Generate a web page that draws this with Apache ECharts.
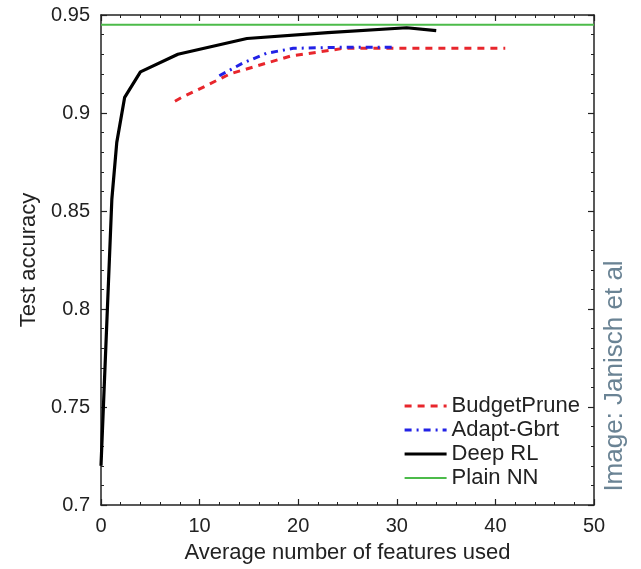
<!DOCTYPE html>
<html>
<head>
<meta charset="utf-8">
<script src="https://cdn.jsdelivr.net/npm/echarts@6/dist/echarts.min.js"></script>
<style>
html,body{margin:0;padding:0;background:#fff;}
#chart{width:641px;height:569px;}
</style>
</head>
<body>
<div id="chart"></div>
<script>
// ---- data ----
const seriesNames = ['BudgetPrune', 'Adapt-Gbrt', 'Deep RL', 'Plain NN'];

const budgetPruneX = [7.5, 8.2, 10.7, 13.1, 15.8, 19.2, 24.6, 30, 35, 41];
const budgetPruneY = [0.906, 0.908, 0.914, 0.920, 0.924, 0.929, 0.933, 0.933, 0.933, 0.933];

const adaptGbrtX = [12, 14.4, 16.8, 19.5, 24, 29.6];
const adaptGbrtY = [0.919, 0.9255, 0.9305, 0.933, 0.9335, 0.9335];

const deepRLX = [0, 1.1, 1.6, 2.4, 4, 7.8, 14.8, 23, 31, 34];
const deepRLY = [0.72, 0.856, 0.885, 0.908, 0.921, 0.930, 0.938, 0.941, 0.9435, 0.942];

const plainNNX = [0, 50];
const plainNNY = [0.945, 0.945];

const xTicks = [0, 10, 20, 30, 40, 50];
const yTicks = [0.7, 0.75, 0.8, 0.85, 0.9, 0.95];

const zip = (xs, ys) => xs.map((x, i) => [x, ys[i]]);

const FONT = 'Liberation Sans, Arial, Helvetica, sans-serif';
const COLORS = ['#e8262c', '#2222e6', '#000000', '#4cbb4a'];
const WIDTHS = [3, 3, 3.2, 2];
const DASHES = [[7, 6], [7, 5, 2, 5], 'solid', 'solid'];

const axisCommon = {
  type: 'value',
  axisLine: { show: true, onZero: false, lineStyle: { color: '#222', width: 1.5 } },
  axisTick: { show: true, inside: true, length: 6, lineStyle: { color: '#222', width: 1.2 } },
  minorTick: { show: true, splitNumber: 5, length: 3, lineStyle: { color: '#222', width: 1 } },
  splitLine: { show: false },
  minorSplitLine: { show: false }
};

const chart = echarts.init(document.getElementById('chart'), null, { renderer: 'canvas' });
chart.setOption({
  animation: false,
  backgroundColor: '#fff',
  grid: { left: 101, top: 15, width: 493, height: 493, containLabel: false },
  xAxis: [
    Object.assign({}, axisCommon, {
      position: 'bottom',
      min: xTicks[0], max: xTicks[xTicks.length - 1], interval: 10,
      name: 'Average number of features used',
      nameLocation: 'middle', nameGap: 37,
      nameTextStyle: { fontFamily: FONT, fontSize: 22, color: '#222' },
      axisLabel: { show: true, margin: 11, fontFamily: FONT, fontSize: 20, color: '#222' }
    }),
    Object.assign({}, axisCommon, {
      position: 'top',
      min: xTicks[0], max: xTicks[xTicks.length - 1], interval: 10,
      axisLabel: { show: false }
    })
  ],
  yAxis: [
    Object.assign({}, axisCommon, {
      position: 'left',
      min: yTicks[0], max: yTicks[yTicks.length - 1], interval: 0.05,
      name: 'Test accuracy',
      nameLocation: 'middle', nameGap: 52,
      nameTextStyle: { fontFamily: FONT, fontSize: 22, color: '#222' },
      axisLabel: {
        show: true, margin: 11, fontFamily: FONT, fontSize: 20, color: '#222',
        formatter: v => String(+v.toFixed(2))
      }
    }),
    Object.assign({}, axisCommon, {
      position: 'right',
      min: yTicks[0], max: yTicks[yTicks.length - 1], interval: 0.05,
      axisLabel: { show: false }
    })
  ],
  legend: {
    orient: 'vertical',
    left: 403, top: 395,
    padding: 0,
    itemWidth: 42, itemHeight: 14, itemGap: 2,
    itemStyle: { opacity: 0 },
    textStyle: { fontFamily: FONT, fontSize: 22, lineHeight: 22, color: '#222' },
    data: seriesNames.map((n, i) => ({
      name: n,
      lineStyle: { width: WIDTHS[i], color: COLORS[i], type: DASHES[i] }
    }))
  },
  series: [
    {
      name: seriesNames[0], type: 'line', symbol: 'none', z: 3,
      data: zip(budgetPruneX, budgetPruneY),
      lineStyle: { color: COLORS[0], width: WIDTHS[0], type: DASHES[0] },
      itemStyle: { color: COLORS[0] }
    },
    {
      name: seriesNames[1], type: 'line', symbol: 'none', z: 4,
      data: zip(adaptGbrtX, adaptGbrtY),
      lineStyle: { color: COLORS[1], width: WIDTHS[1], type: DASHES[1] },
      itemStyle: { color: COLORS[1] }
    },
    {
      name: seriesNames[2], type: 'line', symbol: 'none', z: 5,
      data: zip(deepRLX, deepRLY),
      lineStyle: { color: COLORS[2], width: WIDTHS[2] },
      itemStyle: { color: COLORS[2] }
    },
    {
      name: seriesNames[3], type: 'line', symbol: 'none', z: 2,
      data: zip(plainNNX, plainNNY),
      lineStyle: { color: COLORS[3], width: WIDTHS[3] },
      itemStyle: { color: COLORS[3] }
    }
  ],
  graphic: [
    {
      type: 'text',
      x: 615, y: 376,
      rotation: Math.PI / 2,
      style: {
        text: 'Image: Janisch et al',
        fontFamily: FONT, fontSize: 26,
        fill: '#6a8394',
        textAlign: 'center', textVerticalAlign: 'middle'
      }
    }
  ]
});
</script>
</body>
</html>
